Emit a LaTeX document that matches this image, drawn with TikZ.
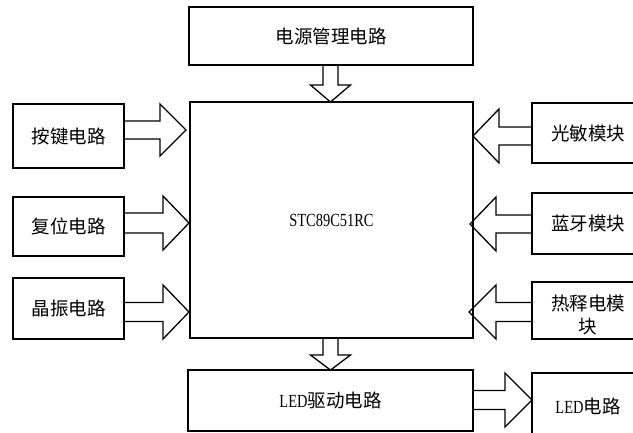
\documentclass[tikz,border=0pt]{standalone}
\usepackage{fontspec}
\newfontfamily\cjk{Noto Sans CJK SC}
\newfontfamily\lat[FakeStretch=0.78]{Liberation Serif}
\newcommand\harr[6]{\draw[blk] (#1,{#4-#5}) -- (#2,{#4-#5}) -- (#2,{#4-#6}) -- (#3,#4) -- (#2,{#4+#6}) -- (#2,{#4+#5}) -- (#1,{#4+#5});}
\newcommand\varr[6]{\draw[blk] ({#4-#5},#1) -- ({#4-#5},#2) -- ({#4-#6},#2) -- (#4,#3) -- ({#4+#6},#2) -- ({#4+#5},#2) -- ({#4+#5},#1);}
\begin{document}
\begin{tikzpicture}[x=1pt,y=-1pt,line width=1.3pt,
  box/.style={draw,rectangle,inner sep=0pt,font=\cjk\fontsize{18.5}{23}\selectfont,align=center},
  txt/.style={inner sep=0pt,font=\cjk\fontsize{18.5}{23}\selectfont,align=center},
  blk/.style={draw,line join=miter}]
\useasboundingbox (0,0) rectangle (633,432);
\clip (0,0) rectangle (633,432);
% boxes
\node[box,minimum width=284pt,minimum height=58pt] (pwr) at (331,36) {电源管理电路};
\node[box,minimum width=283pt,minimum height=236pt] (mcu) at (331.5,220) {\lat STC89C51RC};
\node[box,minimum width=285pt,minimum height=61pt] (drv) at (330.5,400.5) {{\lat LED}驱动电路};
\node[box,minimum width=112pt,minimum height=67pt] (led) at (588,406.5) {{\lat LED}电路};
\node[box,minimum width=111pt,minimum height=64pt] (key) at (68.5,136) {按键电路};
\node[box,minimum width=111pt,minimum height=59pt] (rst) at (68.5,226.5) {复位电路};
\node[box,minimum width=111pt,minimum height=61pt] (osc) at (68.5,308.5) {晶振电路};
\node[box,minimum width=112pt,minimum height=60pt] (lgt) at (588,133) {光敏模块};
\node[box,minimum width=112pt,minimum height=61pt] (bt) at (588,223.5) {蓝牙模块};
\node[box,minimum width=112pt,minimum height=57pt] (pir) at (588,310.5) {};
\node[txt] (pirt) at (588,315) {热释电模\\块};
% block arrows
\harr{124}{160}{186}{130}{9}{26}
\harr{124}{163}{189}{223}{10}{27}
\harr{124}{163}{189}{312}{9.5}{27}
\harr{532}{499}{473}{136}{9}{27}
\harr{532}{496}{470}{224}{9}{27}
\harr{532}{496}{469}{312}{9.5}{27}
\harr{473}{505}{532}{400}{9.5}{27}
\varr{65}{85}{102}{330.5}{7.5}{20}
\varr{338}{355}{370}{330.5}{7.5}{20}
\end{tikzpicture}
\end{document}
